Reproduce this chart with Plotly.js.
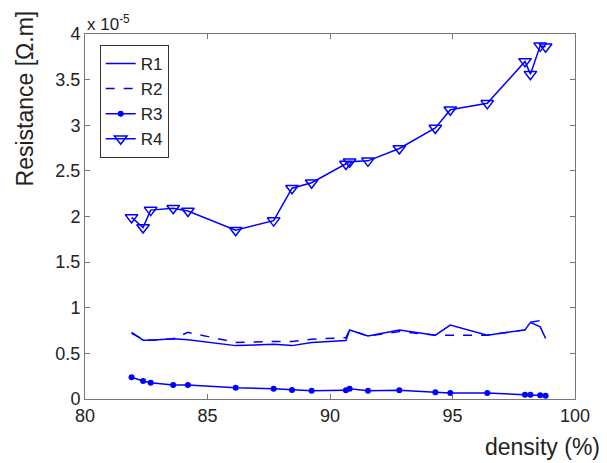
<!DOCTYPE html>
<html>
<head>
<meta charset="utf-8">
<script src="https://cdn.plot.ly/plotly-3.0.1.min.js"></script>
<style>html,body{margin:0;padding:0;background:#fff;}#chart{width:607px;height:463px;}</style>
</head>
<body>
<div id="chart"></div>
<script>
// density (%) shared by all series
const density = [81.9, 82.37, 82.68, 83.6, 84.2, 86.15, 87.7, 88.45, 89.25, 90.65, 90.8, 91.55, 92.83, 94.3, 94.91, 96.42, 97.96, 98.18, 98.58, 98.8];
// Resistance values in units of 1e-5 Ohm.m
const r1 = [0.73, 0.645, 0.645, 0.66, 0.65, 0.585, 0.60, 0.585, 0.62, 0.64, 0.757, 0.69, 0.757, 0.70, 0.81, 0.70, 0.757, 0.84, 0.79, 0.665];
const r2 = [0.72, 0.655, 0.645, 0.66, 0.73, 0.62, 0.63, 0.63, 0.655, 0.672, 0.757, 0.69, 0.74, 0.70, 0.70, 0.70, 0.757, 0.84, 0.86, 0.84];
const r3 = [0.238, 0.197, 0.179, 0.154, 0.154, 0.124, 0.113, 0.099, 0.091, 0.095, 0.113, 0.091, 0.095, 0.073, 0.066, 0.066, 0.047, 0.047, 0.040, 0.036];
const r4 = [1.99, 1.88, 2.07, 2.09, 2.06, 1.85, 1.955, 2.31, 2.37, 2.575, 2.60, 2.61, 2.745, 2.97, 3.17, 3.24, 3.70, 3.56, 3.87, 3.86];
const seriesNames = ["R1", "R2", "R3", "R4"];
const xTicks = [80, 85, 90, 95, 100];
const yTicks = [0, 0.5, 1, 1.5, 2, 2.5, 3, 3.5, 4];
const yTickText = ["0", "0.5", "1", "1.5", "2", "2.5", "3", "3.5", "4"];

const blue = "#0000ff";
const traces = [
  {x: density, y: r1, name: seriesNames[0], mode: "lines", line: {color: blue, width: 1.5}},
  {x: density, y: r2, name: seriesNames[1], mode: "lines", line: {color: blue, width: 1.5, dash: "dash"}},
  {x: density, y: r3, name: seriesNames[2], mode: "lines+markers", line: {color: blue, width: 1.5}, marker: {color: blue, size: 6, symbol: "circle"}},
  {x: density, y: r4, name: seriesNames[3], mode: "lines+markers", line: {color: blue, width: 1.5}, marker: {color: blue, size: 11, symbol: "triangle-down-open", line: {width: 1.5, color: blue}}}
];

const font = {family: "Liberation Sans, Arial, sans-serif", color: "#222"};
const layout = {
  width: 607, height: 463,
  margin: {l: 85, r: 32, t: 34, b: 64, pad: 0},
  paper_bgcolor: "#fff", plot_bgcolor: "#fff",
  font: font,
  showlegend: true,
  legend: {x: 0.03, y: 0.97, xanchor: "left", yanchor: "top", bgcolor: "#fff", bordercolor: "#333", borderwidth: 1, font: {size: 17, family: font.family, color: "#222"}, itemwidth: 30, tracegroupgap: 0},
  xaxis: {range: [80, 100], tickvals: xTicks, ticktext: xTicks.map(String), ticks: "inside", ticklen: 5, tickcolor: "#777", showline: true, linecolor: "#777", linewidth: 1, mirror: "ticks", showgrid: false, zeroline: false, tickfont: {size: 18, family: font.family, color: "#222"}},
  yaxis: {range: [0, 4], tickvals: yTicks, ticktext: yTickText, ticks: "inside", ticklen: 5, tickcolor: "#777", showline: true, linecolor: "#777", linewidth: 1, mirror: "ticks", showgrid: false, zeroline: false, tickfont: {size: 18, family: font.family, color: "#222"}},
  annotations: [
    {text: "x 10<sup>-5</sup>", xref: "paper", yref: "paper", x: 0.0, y: 1.0, xanchor: "left", yanchor: "bottom", showarrow: false, font: {size: 17, family: font.family, color: "#222"}, yshift: -2},
    {text: "Resistance [Ω.m]", xref: "paper", yref: "paper", x: -0.123, y: 0.8226, xanchor: "center", yanchor: "middle", textangle: -90, showarrow: false, font: {size: 23, family: font.family, color: "#222"}},
    {text: "density (%)", xref: "paper", yref: "paper", x: 0.934, y: -0.131, xanchor: "center", yanchor: "middle", showarrow: false, font: {size: 23, family: font.family, color: "#222"}}
  ]
};
Plotly.newPlot("chart", traces, layout, {staticPlot: true, displayModeBar: false});
</script>
</body>
</html>
